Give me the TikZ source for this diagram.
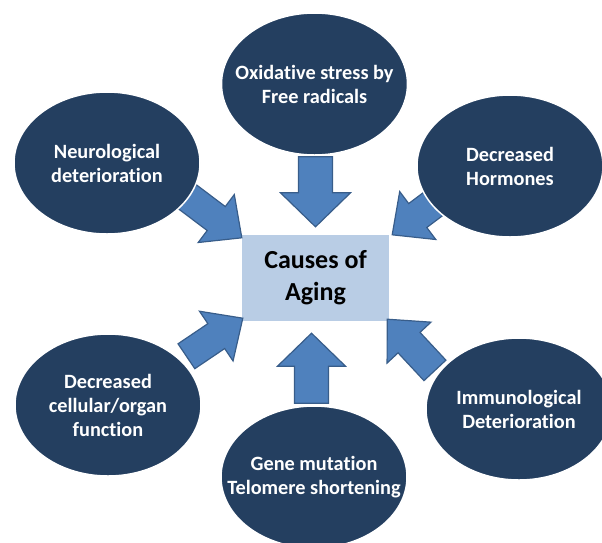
\documentclass[tikz,border=0pt]{standalone}
\usepackage{fontspec}
\setmainfont{Carlito}[Ligatures=NoCommon]
\usetikzlibrary{shapes.geometric}
\definecolor{blunotte}{HTML}{243F60}
\definecolor{celeste}{HTML}{B9CDE5}
\definecolor{bluFreccia}{HTML}{4F81BD}
\definecolor{bordoFreccia}{HTML}{385D8A}
\begin{document}
\begin{tikzpicture}[
			x=1pt, y=-1pt,
			causa/.style={ellipse, fill=blunotte, draw=white, line width=1.5pt,
				minimum width=186pt, minimum height=142pt, inner sep=0pt},
			testo/.style={text=white, align=center, inner sep=0pt,
				font=\bfseries\fontsize{20.3}{24}\selectfont},
			centro/.style={rectangle, fill=celeste, minimum width=147pt,
				minimum height=86pt, align=center,
				font=\bfseries\fontsize{26}{32}\selectfont},
			freccia/.style={fill=bluFreccia, draw=bordoFreccia,
				line width=1.2pt, line join=miter}]
			
			\useasboundingbox (0,0) rectangle (602,542);
			\clip (0,0) rectangle (602,542);
			
			%% --- riquadro centrale ---
			\node[centro] (cause) at (315.5,278) {Causes of\\Aging};
			
			%% --- punte delle frecce, sui bordi del riquadro ---
			\coordinate (pN)  at ([yshift=8pt]cause.north);
			\coordinate (pS)  at ([xshift=-4pt, yshift=-12pt]cause.south);
			\coordinate (pNO) at ([yshift=-3pt]cause.north west);
			\coordinate (pSO) at ([xshift=1pt, yshift=3pt]cause.south west);
			\coordinate (pNE) at ([xshift=3pt]cause.north east);
			\coordinate (pSE) at ([xshift=-2pt, yshift=2pt]cause.south east);
			
			%% --- frecce a blocco: punta/angolo/lungh./testa/mezza testa/mezzo fusto ---
			\foreach \p/\a/\l/\h/\w/\s in {pN/-90/70/34/35/17, pS/90/70/33/34/17,
				pNO/-37/68/32/30/15, pSO/34/68/32/30/15,
				pNE/-143/68/32/30/15, pSE/133/70/32/30/15}{
				\begin{scope}[shift={(\p)}, rotate=\a]
					\draw[freccia] (0,0) -- (-\h,\w) -- (-\h,\s) -- (-\l,\s)
						-- (-\l,-\s) -- (-\h,-\s) -- (-\h,-\w) -- cycle;
				\end{scope}
			}
			
			%% --- le sei cause ---
			\node[causa] (ossidativo) at (314.5,84) {};
			\node[testo] (ossidativoT) at (ossidativo) {Oxidative stress by\\Free radicals};
			
			\node[causa] (neuro) at (107,163) {};
			\node[testo] (neuroT) at (neuro) {Neurological\\deterioration};
			
			\node[causa] (ormoni) at (510,166) {};
			\node[testo] (ormoniT) at (ormoni) {Decreased\\Hormones};
			
			\node[causa] (cellulare) at (108,405) {};
			\node[testo] (cellulareT) at (cellulare) {Decreased\\cellular/organ\\function};
			
			\node[causa] (gene) at (314,477) {};
			\node[testo] (geneT) at (gene) {Gene mutation\\Telomere shortening};
			
			\node[causa] (immuno) at (519,409) {};
			\node[testo] (immunoT) at (immuno) {Immunological\\Deterioration};
			
		\end{tikzpicture}
\end{document}
